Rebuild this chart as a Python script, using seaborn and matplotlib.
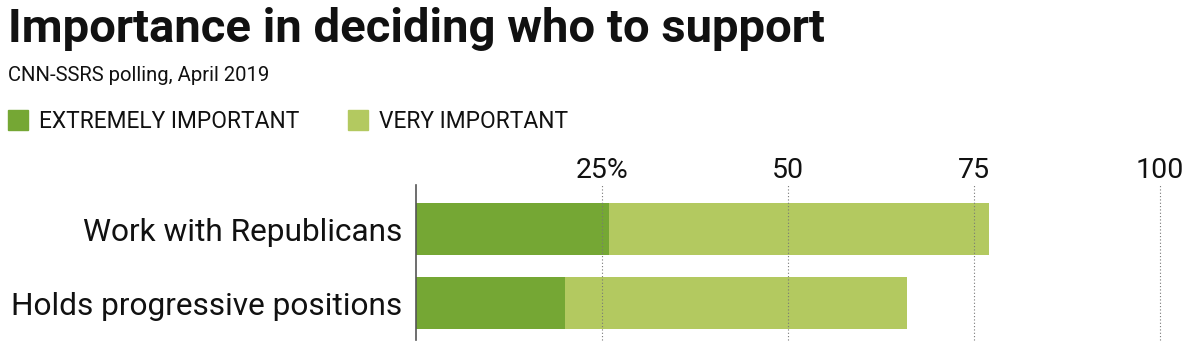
import matplotlib
matplotlib.use("Agg")
import matplotlib.pyplot as plt
import seaborn as sns
import pandas as pd
from matplotlib.patches import Rectangle

categories = ["Work with Republicans", "Holds progressive positions"]
extremely_important = [26, 20]
very_important = [51, 46]
series_names = ["EXTREMELY IMPORTANT", "VERY IMPORTANT"]
tick_values = [25, 50, 75, 100]
tick_labels = ["25%", "50", "75", "100"]

DARK = "#75a734"
LIGHT = "#b3c960"

sns.set_theme(style="white")
plt.rcParams["font.family"] = ["Roboto", "DejaVu Sans"]

totals = [a + b for a, b in zip(extremely_important, very_important)]
df = pd.DataFrame({"category": categories, "extreme": extremely_important, "total": totals})

fig = plt.figure(figsize=(12, 3.56), dpi=100)
ax = fig.add_axes([416 / 1200, 16 / 356, 744 / 1200, 155 / 356])

sns.barplot(data=df, y="category", x="total", color=LIGHT, orient="h", width=0.7,
            saturation=1, linewidth=0, ax=ax, zorder=2)
sns.barplot(data=df, y="category", x="extreme", color=DARK, orient="h", width=0.7,
            saturation=1, linewidth=0, ax=ax, zorder=3)

ax.set_xlim(0, 100)
ax.set_ylim(1.5, -0.6)
ax.set_xlabel("")
ax.set_ylabel("")
for v in tick_values:
    ax.axvline(v, color="#777777", linestyle=(0, (1, 2)), linewidth=0.8, zorder=4,
               clip_on=False)
ax.xaxis.tick_top()
ax.set_xticks(tick_values)
ax.set_xticklabels(tick_labels, fontsize=20.5, color="#111111")
ax.tick_params(axis="x", length=0, pad=1)
ax.tick_params(axis="y", length=0, pad=10)
for lab in ax.get_yticklabels():
    lab.set_fontsize(22.8)
    lab.set_color("#111111")
for s in ["top", "right", "bottom"]:
    ax.spines[s].set_visible(False)
ax.spines["left"].set_color("#555555")
ax.spines["left"].set_linewidth(1.2)
ax.spines["left"].set_zorder(5)

fig.text(8 / 1200, 1 - 42 / 356, "Importance in deciding who to support", fontsize=34,
         fontweight="bold", color="#111111", va="baseline", ha="left")
fig.text(8 / 1200, 1 - 81 / 356, "CNN-SSRS polling, April 2019", fontsize=14.6,
         color="#111111", va="baseline", ha="left")

leg_x = [8, 348]
for x, name, col in zip(leg_x, series_names, [DARK, LIGHT]):
    fig.patches.append(Rectangle((x / 1200, 1 - 130 / 356), 20 / 1200, 20 / 356,
                                 transform=fig.transFigure, color=col))
    fig.text((x + 31) / 1200, 1 - 128 / 356, name, fontsize=16.4, color="#111111",
             va="baseline", ha="left")

fig.savefig("out.png", dpi=100)
